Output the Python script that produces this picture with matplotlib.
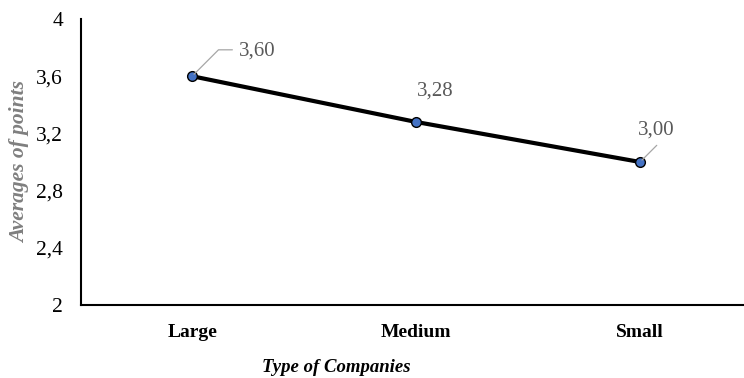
import matplotlib
matplotlib.use("Agg")
import matplotlib.pyplot as plt

# ── data ─────────────────────────────────────────────────────────────────────
companies = ["Large", "Medium", "Small"]
averages = [3.60, 3.28, 3.00]
value_labels = ["3,60", "3,28", "3,00"]
y_ticks = [2, 2.4, 2.8, 3.2, 3.6, 4]
y_tick_labels = ["2", "2,4", "2,8", "3,2", "3,6", "4"]

plt.rcParams["font.family"] = ["Liberation Serif", "DejaVu Serif"]

fig = plt.figure(figsize=(7.44, 3.78), dpi=100)
ax = fig.add_axes([81 / 744, 73 / 378, 1 - 81 / 744, (305 - 19) / 378])

x = list(range(len(companies)))
ax.plot(x, averages, color="black", lw=3, zorder=2)
ax.plot(x, averages, ls="none", marker="o", ms=7, mfc="#4472C4",
        mec="black", mew=1, zorder=3)

# data labels (offsets in points)
offsets = [(47, 18), (14, 22), (12, 23)]
for xi, yi, lab, off in zip(x, averages, value_labels, offsets):
    ax.annotate(lab, (xi, yi), xytext=off, textcoords="offset points",
                ha="center", va="center", fontsize=15, color="#595959")
# leader lines
ax.annotate("", (0, averages[0]), xytext=(29, 19), textcoords="offset points",
            arrowprops=dict(arrowstyle="-", color="#a6a6a6", lw=0.9,
                            shrinkA=0, shrinkB=2,
                            connectionstyle="angle,angleA=0,angleB=45,rad=0"))
ax.annotate("", (2, averages[2]), xytext=(12, 12), textcoords="offset points",
            arrowprops=dict(arrowstyle="-", color="#a6a6a6", lw=0.9,
                            shrinkA=0, shrinkB=2))

ax.set_xlim(-0.496, 2.464)
ax.set_ylim(2, 4)
ax.set_xticks(x)
ax.set_xticklabels(companies, fontsize=14, fontweight="bold")
ax.set_yticks(y_ticks)
ax.set_yticklabels(y_tick_labels, fontsize=15.5)
ax.tick_params(length=0)
ax.tick_params(axis="y", pad=13)
ax.tick_params(axis="x", pad=14)

for s in ["top", "right"]:
    ax.spines[s].set_visible(False)
for s in ["left", "bottom"]:
    ax.spines[s].set_linewidth(1.5)
    ax.spines[s].set_color("black")

ax.set_ylabel("Averages of points", fontsize=15.5, fontstyle="italic",
              fontweight="bold", color="#7f7f7f", labelpad=4)
fig.text(336 / 744, 1 - 367 / 378, "Type of Companies", ha="center",
         va="center", fontsize=13.5, fontstyle="italic", fontweight="bold")

fig.savefig("out.png", dpi=100)
